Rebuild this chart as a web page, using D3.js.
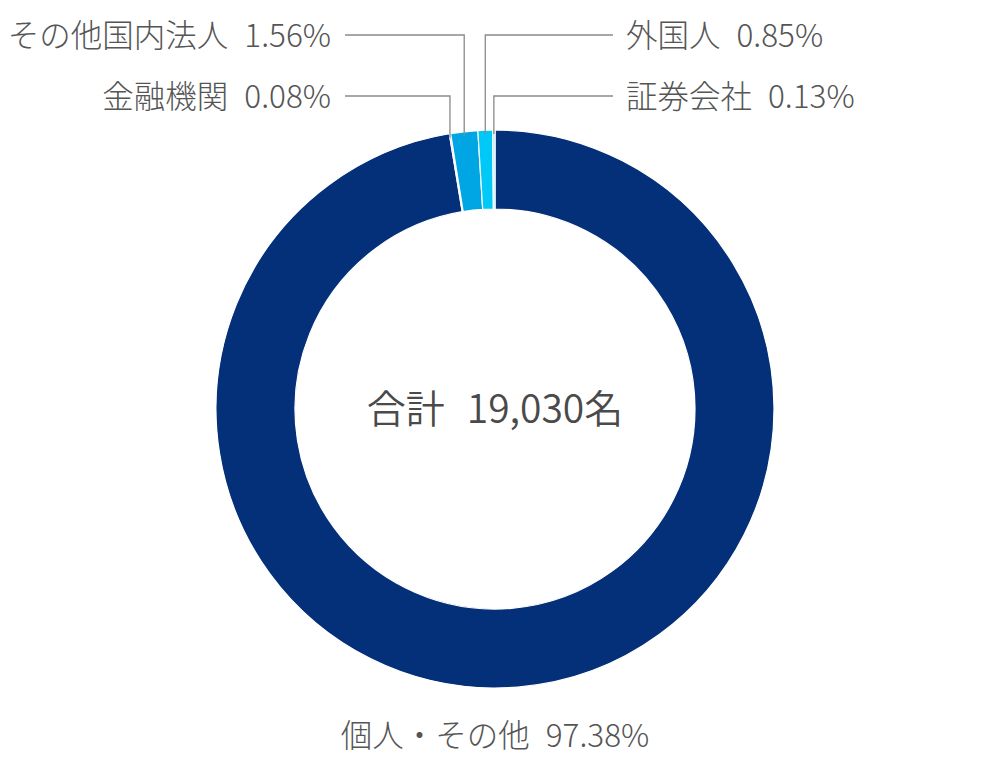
<!DOCTYPE html>
<html>
<head>
<meta charset="utf-8">
<script src="https://cdn.jsdelivr.net/npm/d3@7"></script>
<style>
html,body{margin:0;padding:0;background:#fff;}
svg{display:block;font-family:"Noto Sans CJK JP","Noto Sans",sans-serif;}
</style>
</head>
<body>
<svg id="chart" width="990" height="770"></svg>
<script>
const categories = ["個人・その他", "金融機関", "その他国内法人", "外国人", "証券会社"];
const shares = [97.38, 0.08, 1.56, 0.85, 0.13];
const colors = ["#04307a", "#1f60d0", "#00a6e4", "#00c9f7", "#9ee2f8"];
const totalLabel = "合計";
const totalValue = "19,030名";
// label placement: side and row for the small slices
const labelSide = [null, "left", "left", "right", "right"];
const labelRow = [null, 1, 0, 0, 1];

const svg = d3.select("#chart");
const cx = 495, cy = 409, R = 279, r = 200;
const g = svg.append("g").attr("transform", `translate(${cx},${cy})`);

const data = categories.map((c, i) => ({name: c, value: shares[i], color: colors[i], i}));
const pie = d3.pie().value(d => d.value).sort(null).startAngle(0).endAngle(2 * Math.PI);
const arc = d3.arc().innerRadius(r).outerRadius(R);
const arcs = pie(data);

g.selectAll("path.slice").data(arcs).join("path")
  .attr("class", "slice")
  .attr("d", arc)
  .attr("fill", d => d.data.color)
  .attr("stroke", "#fff")
  .attr("stroke-width", 1.2);

// center total
const ct = svg.append("text")
  .attr("x", cx).attr("y", cy + 14)
  .attr("text-anchor", "middle")
  .attr("font-size", 39)
  .attr("font-weight", 350)
  .attr("fill", "#4a4a4a");
ct.append("tspan").text(totalLabel);
ct.append("tspan").attr("dx", 22).text(totalValue);

// bottom label for the main slice
const bl = svg.append("text")
  .attr("x", cx).attr("y", 747)
  .attr("text-anchor", "middle")
  .attr("font-size", 31.5)
  .attr("font-weight", 300)
  .attr("fill", "#555");
bl.append("tspan").text(categories[0]);
bl.append("tspan").attr("dx", 16).text(shares[0].toFixed(2) + "%");

// small slice labels with leader lines
const rowY = [35, 96];
const leftLineEnd = 345, rightLineStart = 613;
const leftTextX = 331, rightTextX = 626;

arcs.forEach(a => {
  const i = a.data.i;
  if (!labelSide[i]) return;
  const mid = (a.startAngle + a.endAngle) / 2;
  const px = R * Math.sin(mid);
  const py = -R * Math.cos(mid) + 4;
  const x0 = cx + px, y0 = cy + py;
  const ly = rowY[labelRow[i]];
  const side = labelSide[i];
  const xEnd = side === "left" ? leftLineEnd : rightLineStart;
  svg.append("polyline")
    .attr("points", `${x0},${y0} ${x0},${ly} ${xEnd},${ly}`)
    .attr("fill", "none")
    .attr("stroke", "#8a8a8a")
    .attr("stroke-width", 1.3);
  const t = svg.append("text")
    .attr("x", side === "left" ? leftTextX : rightTextX)
    .attr("y", ly + 12)
    .attr("text-anchor", side === "left" ? "end" : "start")
    .attr("font-size", 31.5)
    .attr("font-weight", 300)
    .attr("fill", "#555");
  t.append("tspan").text(a.data.name);
  t.append("tspan").attr("dx", 16).text(a.data.value.toFixed(2) + "%");
});
</script>
</body>
</html>
